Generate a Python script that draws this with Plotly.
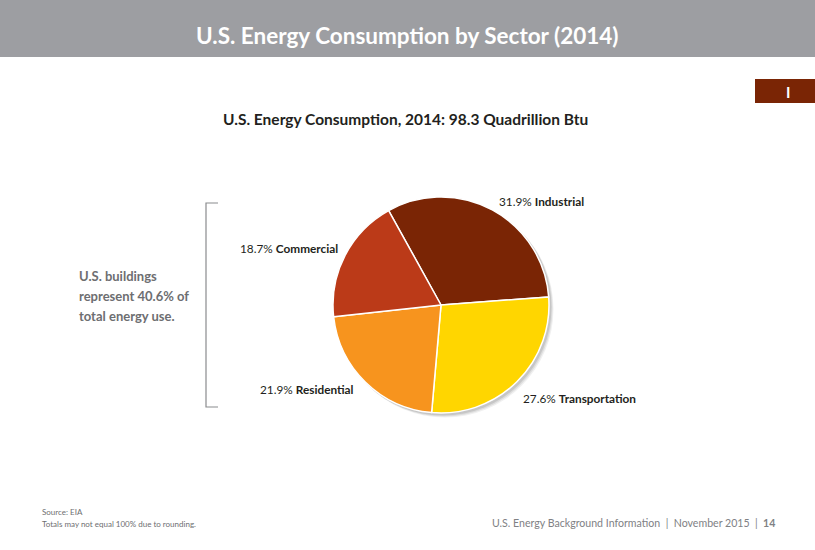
import plotly.graph_objects as go

# Data
sectors = ["Industrial", "Transportation", "Residential", "Commercial"]
shares = [31.9, 27.6, 21.9, 18.7]
colors = ["#7a2505", "#ffd600", "#f7941e", "#bb3a18"]

title = "U.S. Energy Consumption by Sector (2014)"
subtitle = "U.S. Energy Consumption, 2014: 98.3 Quadrillion Btu"
side_note = ["U.S. buildings", "represent 40.6% of", "total energy use."]
source_lines = ["Source: EIA", "Totals may not equal 100% due to rounding."]
footer_parts = ["U.S. Energy Background Information", "November 2015", "14"]
section_tag = "I"

W, H = 815, 550
cx, cy, r = 441, 305, 108

def px_x(x):
    return x / W

def px_y(y):
    return 1 - y / H

fig = go.Figure()

# soft shadow behind pie
for off, alpha in [(4, 0.06), (3, 0.08), (2, 0.10)]:
    fig.add_trace(go.Pie(
        values=[1], labels=["shadow"], marker=dict(colors=[f"rgba(0,0,0,{alpha})"], line=dict(width=0)),
        textinfo="none", hoverinfo="skip", showlegend=False, sort=False,
        domain=dict(x=[px_x(cx - r + off - 0.5), px_x(cx + r + off + 0.5)],
                    y=[px_y(cy + r + off + 0.5), px_y(cy - r + off - 0.5)]),
    ))

fig.add_trace(go.Pie(
    labels=sectors, values=shares, sort=False, direction="clockwise", rotation=-29,
    marker=dict(colors=colors, line=dict(color="white", width=1.5)),
    textinfo="none", hoverinfo="label+percent", showlegend=False,
    domain=dict(x=[px_x(cx - r), px_x(cx + r)], y=[px_y(cy + r), px_y(cy - r)]),
))

shapes = [
    # header bar
    dict(type="rect", xref="paper", yref="paper", x0=0, x1=1, y0=px_y(57), y1=1,
         fillcolor="#9d9ea2", line=dict(width=0), layer="below"),
    # section tag box
    dict(type="rect", xref="paper", yref="paper", x0=px_x(755), x1=1, y0=px_y(103), y1=px_y(79),
         fillcolor="#7a2505", line=dict(width=0)),
    # bracket
    dict(type="path", xref="paper", yref="paper",
         path=f"M {px_x(218)} {px_y(203)} L {px_x(206)} {px_y(203)} L {px_x(206)} {px_y(407)} L {px_x(218)} {px_y(407)}",
         line=dict(color="#8a8b8e", width=1.2)),
]

font_main = "Lato, 'Open Sans', sans-serif"
ann = []
ann.append(dict(text=f"<b>{title}</b>", x=px_x(407), y=px_y(36), xref="paper", yref="paper",
                showarrow=False, font=dict(family=font_main, size=22.5, color="white"),
                xanchor="center", yanchor="middle"))
ann.append(dict(text=f"<b>{section_tag}</b>", x=px_x(788), y=px_y(92), xref="paper", yref="paper",
                showarrow=False, font=dict(family=font_main, size=15, color="white"),
                xanchor="center", yanchor="middle"))
ann.append(dict(text=f"<b>{subtitle}</b>", x=px_x(405), y=px_y(119), xref="paper", yref="paper",
                showarrow=False, font=dict(family=font_main, size=15.5, color="#231f20"),
                xanchor="center", yanchor="middle"))
for i, line in enumerate(side_note):
    ann.append(dict(text=f"<b>{line}</b>", x=px_x(77), y=px_y(276 + 20 * i), xref="paper", yref="paper",
                    showarrow=False, font=dict(family=font_main, size=13, color="#6d6e71"),
                    xanchor="left", yanchor="middle"))

label_pos = {"Industrial": (497, 201), "Transportation": (521, 398),
             "Residential": (258, 389), "Commercial": (238, 249)}
for s, v in zip(sectors, shares):
    x, y = label_pos[s]
    ann.append(dict(text=f"{v:.1f}% <b>{s}</b>", x=px_x(x), y=px_y(y), xref="paper", yref="paper",
                    showarrow=False, font=dict(family=font_main, size=11.8, color="#231f20"),
                    xanchor="left", yanchor="middle"))

for i, line in enumerate(source_lines):
    ann.append(dict(text=line, x=px_x(40), y=px_y(512 + 12 * i), xref="paper", yref="paper",
                    showarrow=False, font=dict(family=font_main, size=8, color="#6d6e71"),
                    xanchor="left", yanchor="middle"))

footer = f"{footer_parts[0]}  |  {footer_parts[1]}  |  <b>{footer_parts[2]}</b>"
ann.append(dict(text=footer, x=px_x(777), y=px_y(523), xref="paper", yref="paper",
                showarrow=False, font=dict(family=font_main, size=10.6, color="#808184"),
                xanchor="right", yanchor="middle"))

fig.update_layout(
    width=W, height=H, margin=dict(l=0, r=0, t=0, b=0),
    paper_bgcolor="white", plot_bgcolor="white",
    shapes=shapes, annotations=ann, showlegend=False,
)

fig.write_html("out.html")
